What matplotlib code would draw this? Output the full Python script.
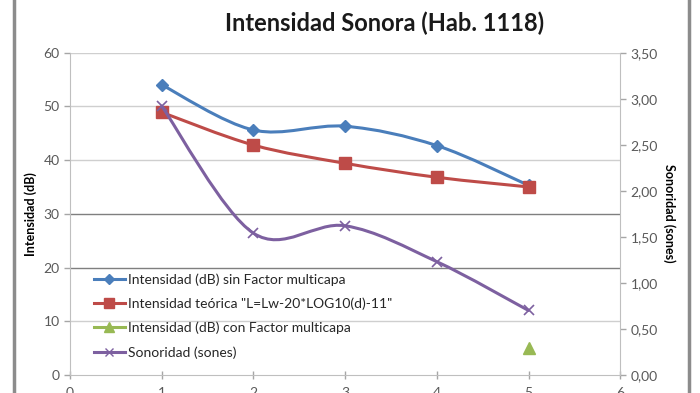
import matplotlib.pyplot as plt
import numpy as np
from matplotlib.path import Path
from matplotlib.patches import PathPatch
from matplotlib.lines import Line2D

plt.rcParams['font.family'] = ['Lato', 'DejaVu Sans']

# Datos
x = [1, 2, 3, 4, 5]
sin_factor = [54.0, 45.6, 46.3, 42.7, 35.3]
teorica = [48.9, 42.8, 39.4, 36.8, 35.0]
x_con_factor = [5]
con_factor = [5.1]
sones = [2.92, 1.54, 1.62, 1.23, 0.70]

c_azul = '#4a7ebb'
c_rojo = '#be4b48'
c_verde = '#98b954'
c_morado = '#7d60a0'


def curva_suave(ax, xs, ys, color, lw=2.2):
    # linea suavizada tipo Excel (Bezier con vecinos)
    pts = np.column_stack([xs, ys]).astype(float)
    n = len(pts)
    verts = [pts[0]]
    codes = [Path.MOVETO]
    for i in range(n - 1):
        p0 = pts[max(i - 1, 0)]
        p1 = pts[i]
        p2 = pts[i + 1]
        p3 = pts[min(i + 2, n - 1)]
        c1 = p1 + (p2 - p0) / 6.0
        c2 = p2 - (p3 - p1) / 6.0
        verts += [c1, c2, p2]
        codes += [Path.CURVE4] * 3
    ax.add_patch(PathPatch(Path(verts, codes), fill=False, edgecolor=color,
                           lw=lw, capstyle='round', joinstyle='round', zorder=3))


fig = plt.figure(figsize=(7, 3.93), dpi=100)
ax = fig.add_axes([0.1, 0.046, 0.786, 0.82])
ax2 = ax.twinx()

ax.set_xlim(0, 6)
ax.set_ylim(0, 60)
ax2.set_ylim(0, 3.5)

# rejilla horizontal
for v in [10, 40, 50, 60]:
    ax.axhline(v, color='#cfcfcf', lw=1.0, zorder=0)
for v in [20, 30]:
    ax.axhline(v, color='#7f7f7f', lw=1.0, zorder=0)

curva_suave(ax, x, sin_factor, c_azul)
curva_suave(ax, x, teorica, c_rojo)
curva_suave(ax2, x, sones, c_morado)

ax.plot(x, sin_factor, ls='none', marker='D', ms=6.5, color=c_azul, zorder=4)
ax.plot(x, teorica, ls='none', marker='s', ms=8, color=c_rojo, zorder=4)
ax.plot(x_con_factor, con_factor, ls='none', marker='^', ms=9, color=c_verde, zorder=4)
ax2.plot(x, sones, ls='none', marker='x', ms=7, mew=1.2, color=c_morado, zorder=4)

ax.set_xticks(range(0, 7))
ax.set_yticks(range(0, 61, 10))
ax2.set_yticks(np.arange(0, 3.51, 0.5))
ax2.set_yticklabels([f'{v:.2f}'.replace('.', ',') for v in np.arange(0, 3.51, 0.5)])

for a in (ax, ax2):
    for s in a.spines.values():
        s.set_visible(False)
    a.tick_params(colors='#a6a6a6', labelcolor='#595959', labelsize=10, length=4, width=1)
ax.spines['left'].set_visible(True)
ax.spines['left'].set_color('#bfbfbf')
ax.spines['bottom'].set_visible(True)
ax.spines['bottom'].set_color('#bfbfbf')
ax2.spines['right'].set_visible(True)
ax2.spines['right'].set_color('#bfbfbf')
ax.tick_params(axis='x', direction='inout', length=6, pad=6)

ax.set_ylabel('Intensidad (dB)', fontsize=9, fontweight='bold', labelpad=5)
ax2.set_ylabel('Sonoridad (sones)', fontsize=9, fontweight='bold', rotation=270, labelpad=13)

fig.text(0.55, 0.94, 'Intensidad Sonora (Hab. 1118)', ha='center', va='center',
         fontsize=17, fontweight='bold', color='#1a1a1a')

handles = [
    Line2D([], [], color=c_azul, lw=2.2, marker='D', ms=5),
    Line2D([], [], color=c_rojo, lw=2.2, marker='s', ms=7),
    Line2D([], [], color=c_verde, lw=2.2, marker='^', ms=7),
    Line2D([], [], color=c_morado, lw=2.2, marker='x', ms=6),
]
labels = [
    'Intensidad (dB) sin Factor multicapa',
    'Intensidad teórica "L=Lw-20*LOG10(d)-11"',
    'Intensidad (dB) con Factor multicapa',
    'Sonoridad (sones)',
]
leg = ax.legend(handles, labels, loc='upper left', bbox_to_anchor=(0.02, 0.355),
                frameon=False, fontsize=10, handlelength=2.3, handletextpad=0.2,
                labelspacing=0.85, labelcolor='#262626')
leg.set_zorder(5)

# borde del area del grafico
fig.add_artist(Line2D([0.02, 0.02], [0, 1], color='#8c8c8c', lw=2.5))
fig.add_artist(Line2D([0.984, 0.984], [0, 1], color='#8c8c8c', lw=2.5))

fig.savefig('out.png', dpi=100)
